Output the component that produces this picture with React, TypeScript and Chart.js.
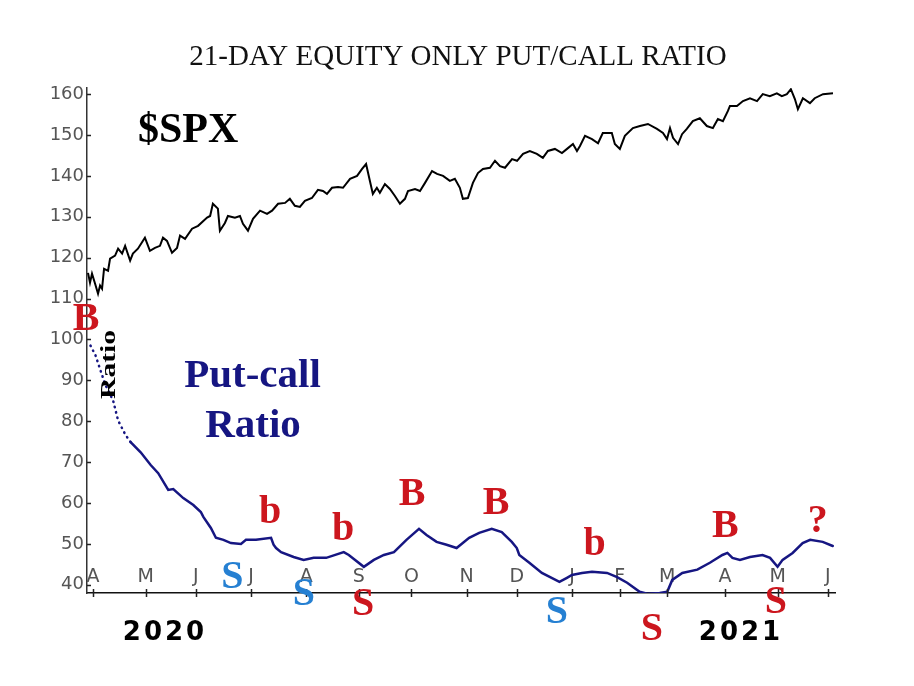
import React, { useEffect, useRef } from "react";
import { Chart, registerables } from "chart.js";

Chart.register(...registerables);

// ---- x axis: trading-day index, month starts ----
const monthDays = [0, 21, 41, 63, 85, 106, 127, 149, 169, 191, 210, 229, 252, 273, 293];
const monthLabels = ["A", "M", "J", "J", "A", "S", "O", "N", "D", "J", "F", "M", "A", "M", "J"];
const yearLabels = ["2020", "2021"];
const yearDays = [28.7, 258.4];

// ---- $SPX (scaled) ----
const spxDays = [
  -2.0, -1.2, -0.4, 0.8, 2.0, 2.8, 3.6, 4.4, 6.0, 6.8,
  8.8, 10.0, 11.6, 12.8, 14.8, 15.9, 17.9, 20.7, 22.7, 24.7,
  26.7, 27.9, 29.5, 31.5, 33.5, 34.7, 36.7, 39.5, 41.9, 45.5,
  46.7, 47.8, 49.8, 50.6, 52.6, 53.8, 56.6, 58.6, 59.8, 61.8,
  63.8, 66.6, 69.4, 71.4, 73.8, 76.6, 78.5, 80.5, 82.5, 84.5,
  87.3, 89.7, 91.7, 93.3, 95.3, 97.7, 99.7, 102.5, 105.3, 107.3,
  108.9, 110.4, 111.6, 113.2, 114.4, 116.4, 118.4, 120.4, 122.4, 124.4,
  125.6, 128.4, 130.4, 132.4, 135.2, 137.2, 139.6, 142.3, 144.3, 146.3,
  147.5, 149.5, 151.5, 153.5, 155.5, 158.3, 160.3, 162.3, 164.3, 167.1,
  169.1, 171.5, 174.2, 177.0, 179.4, 181.4, 184.2, 187.0, 189.4, 191.4,
  193.0, 194.2, 196.2, 199.0, 201.4, 203.3, 206.9, 208.1, 210.1, 212.1,
  215.3, 218.1, 221.3, 224.9, 227.3, 228.9, 230.1, 231.3, 233.3, 234.9,
  236.8, 239.2, 242.0, 244.8, 247.2, 249.2, 251.2, 253.2, 254.0, 256.8,
  259.2, 262.0, 264.8, 267.1, 269.9, 272.7, 274.7, 276.7, 278.3, 279.9,
  281.1, 283.1, 285.9, 287.8, 291.1, 295.1,
];
const spxValues = [
  116.3, 113.9, 116.1, 113.7, 111.2, 113.2, 112.4, 117.3, 116.8, 119.8,
  120.5, 122.2, 121.0, 122.9, 119.3, 121.0, 122.2, 124.9, 121.7, 122.4,
  122.9, 124.9, 124.1, 121.2, 122.4, 125.4, 124.6, 127.1, 127.8, 129.8,
  130.2, 133.2, 132.0, 126.6, 128.5, 130.2, 129.8, 130.2, 128.3, 126.6,
  129.5, 131.5, 130.7, 131.5, 133.2, 133.4, 134.4, 132.7, 132.4, 133.9,
  134.6, 136.6, 136.3, 135.6, 137.1, 137.3, 137.1, 139.3, 140.0, 141.7,
  142.9, 138.8, 135.6, 137.1, 135.9, 138.0, 136.8, 135.1, 133.2, 134.4,
  136.3, 136.8, 136.3, 138.3, 141.2, 140.5, 140.0, 138.8, 139.3, 137.1,
  134.4, 134.6, 138.3, 140.7, 141.7, 142.0, 143.7, 142.4, 142.0, 144.1,
  143.7, 145.4, 146.1, 145.4, 144.4, 146.1, 146.6, 145.6, 146.8, 147.8,
  146.1, 147.3, 149.8, 149.0, 148.0, 150.5, 150.5, 147.8, 146.6, 149.8,
  151.7, 152.2, 152.7, 151.5, 150.5, 149.0, 151.7, 149.3, 147.8, 150.2,
  151.5, 153.4, 154.1, 152.2, 151.7, 153.9, 153.4, 155.9, 157.1, 157.1,
  158.3, 159.0, 158.3, 160.0, 159.5, 160.2, 159.5, 160.0, 161.2, 158.8,
  156.3, 159.0, 157.8, 159.0, 160.0, 160.2,
];

// ---- 21-day equity-only put/call ratio (x100) ----
const pcDays = [
  -1, 1, 3, 5, 8, 10, 13, 15, 19, 23,
  26, 30, 32, 36, 40, 43, 44, 47, 49, 52,
  55, 59, 61, 65, 71, 72, 73, 75, 80, 84,
  88, 93, 100, 102, 108, 112, 116, 120, 125, 130,
  133, 137, 141, 145, 150, 154, 159, 163, 167, 169,
  170, 174, 179, 186, 189, 191, 195, 199, 205, 209,
  213, 218, 221, 226, 229, 231, 235, 241, 246, 251,
  253, 255, 258, 262, 267, 270, 273, 275, 279, 283,
  286, 291, 295,
];
const pcValues = [
  98.5, 96.1, 92.4, 88.8, 85.1, 80.2, 76.6, 74.9, 72.4, 69.3,
  67.3, 63.2, 63.4, 61.2, 59.5, 57.8, 56.6, 53.9, 51.5, 51.0,
  50.2, 50.0, 51.0, 51.0, 51.5, 49.8, 49.0, 48.0, 46.8, 46.1,
  46.6, 46.6, 48.0, 47.3, 44.4, 46.1, 47.3, 48.0, 51.0, 53.7,
  52.2, 50.5, 49.8, 49.0, 51.5, 52.7, 53.7, 52.9, 50.5, 49.0,
  47.3, 45.4, 42.9, 40.7, 41.7, 42.4, 42.9, 43.2, 42.9, 41.9,
  40.5, 38.3, 37.8, 38.0, 38.3, 41.2, 42.9, 43.7, 45.4, 47.3,
  47.8, 46.6, 46.1, 46.8, 47.3, 46.6, 44.4, 46.1, 47.8, 50.2,
  51.0, 50.5, 49.5,
];

// ---- buy / sell signal marks ----
const signalText = ["B", "b", "b", "B", "S", "S", "S", "B", "S", "b", "S", "B", "S", "?"];
const signalDays = [-2.8, 70.6, 99.7, 127.2, 55.6, 84.1, 107.7, 160.7, 185.0, 200.0, 222.9, 252.2, 272.3, 289.0];
const signalValues = [102.2, 55.1, 51.0, 59.5, 39.3, 35.1, 32.7, 57.3, 30.7, 47.3, 26.6, 51.7, 33.2, 52.9];
const signalKind = ["r", "r", "r", "r", "b", "b", "r", "r", "b", "r", "r", "r", "r", "r"];

const RED = "rgb(204,22,30)";
const SKY = "rgb(38,128,210)";
const NAVY = "rgb(22,22,130)";

const decorPlugin = {
  id: "decor",
  beforeDatasetsDraw(chart: any) {
    const { ctx, chartArea, scales } = chart;
    const x = scales.x;
    ctx.save();
    ctx.font = '19px "DejaVu Sans"';
    ctx.fillStyle = "#555";
    ctx.textAlign = "center";
    ctx.textBaseline = "alphabetic";
    monthDays.forEach((d, i) => {
      ctx.fillText(monthLabels[i], x.getPixelForValue(d), chartArea.bottom - 11);
    });
    ctx.restore();
  },
  afterDatasetsDraw(chart: any) {
    const { ctx, chartArea, scales } = chart;
    const x = scales.x;
    const y = scales.y;
    ctx.save();
    // tick marks
    ctx.strokeStyle = "#222";
    ctx.lineWidth = 1.5;
    ctx.beginPath();
    monthDays.forEach((d) => {
      const px = Math.round(x.getPixelForValue(d)) + 0.5;
      ctx.moveTo(px, chartArea.bottom - 4);
      ctx.lineTo(px, chartArea.bottom + 4);
    });
    y.ticks.forEach((t: any) => {
      const py = Math.round(y.getPixelForValue(t.value)) + 0.5;
      ctx.moveTo(chartArea.left, py);
      ctx.lineTo(chartArea.left + 4, py);
    });
    ctx.stroke();

    ctx.textBaseline = "alphabetic";
    ctx.textAlign = "center";

    // title
    ctx.fillStyle = "#111";
    ctx.font = '29px "Liberation Serif"';
    ctx.fillText("21-DAY EQUITY ONLY PUT/CALL RATIO", 458, 65);

    // $SPX
    ctx.font = 'bold 42px "Liberation Serif"';
    ctx.textAlign = "left";
    ctx.fillStyle = "#000";
    ctx.fillText("$SPX", x.getPixelForValue(17.9), y.getPixelForValue(148.3));

    // Put-call Ratio label
    ctx.textAlign = "center";
    ctx.fillStyle = NAVY;
    ctx.font = 'bold 41px "Liberation Serif"';
    ctx.fillText("Put-call", x.getPixelForValue(63.6), y.getPixelForValue(88.3));
    ctx.fillText("Ratio", x.getPixelForValue(63.8), y.getPixelForValue(76.1));

    // rotated "Ratio"
    ctx.save();
    ctx.translate(x.getPixelForValue(6.4), y.getPixelForValue(93.9));
    ctx.rotate(-Math.PI / 2);
    ctx.fillStyle = "#000";
    ctx.font = 'bold 22px "Liberation Serif"';
    ctx.textBaseline = "middle";
    ctx.scale(1.35, 1);
    ctx.fillText("Ratio", 0, 0);
    ctx.restore();

    // signals
    ctx.font = 'bold 40px "Liberation Serif"';
    signalText.forEach((s, i) => {
      ctx.fillStyle = signalKind[i] === "b" ? SKY : RED;
      ctx.fillText(s, x.getPixelForValue(signalDays[i]), y.getPixelForValue(signalValues[i]));
    });

    // years
    ctx.fillStyle = "#000";
    ctx.font = 'bold 26px "DejaVu Sans"';
    (ctx as any).letterSpacing = "3px";
    yearLabels.forEach((s, i) => {
      ctx.fillText(s, x.getPixelForValue(yearDays[i]), y.getPixelForValue(26.6));
    });
    ctx.restore();
  },
};

export default function App() {
  const canvasRef = useRef<HTMLCanvasElement | null>(null);

  useEffect(() => {
    if (!canvasRef.current) return;
    const spxData = spxDays.map((d, i) => ({ x: d, y: spxValues[i] }));
    const pcData = pcDays.map((d, i) => ({ x: d, y: pcValues[i] }));
    const chart = new Chart(canvasRef.current, {
      type: "line",
      data: {
        datasets: [
          {
            label: "$SPX",
            data: spxData,
            borderColor: "#000",
            borderWidth: 2,
            pointRadius: 0,
            tension: 0,
          },
          {
            label: "Put-call Ratio",
            data: pcData,
            borderColor: NAVY,
            borderWidth: 2.5,
            pointRadius: 0,
            tension: 0,
            borderCapStyle: "round",
            segment: {
              borderDash: (c: any) => (c.p0.parsed.x < 15 ? [0.5, 5] : undefined),
            },
          },
        ],
      },
      options: {
        animation: false,
        responsive: true,
        maintainAspectRatio: false,
        layout: { padding: { top: 88, bottom: 93, left: 0, right: 79 } },
        plugins: {
          legend: { display: false },
          tooltip: { enabled: false },
          title: { display: false },
        },
        scales: {
          x: {
            type: "linear",
            min: -2.4,
            max: 295.9,
            grid: { display: false, drawTicks: false },
            ticks: { display: false },
            border: { display: true, color: "#111", width: 1.5 },
            afterFit: (s: any) => {
              s.height = 0;
            },
          },
          y: {
            type: "linear",
            min: 38,
            max: 161.5,
            grid: { display: false, drawTicks: false },
            border: { display: true, color: "#333", width: 1.5 },
            ticks: {
              stepSize: 10,
              includeBounds: false,
              color: "#555",
              padding: 3,
              font: { family: "DejaVu Sans", size: 18 },
            },
            afterFit: (s: any) => {
              s.width = 87;
            },
          },
        },
      },
      plugins: [decorPlugin],
    } as any);
    return () => chart.destroy();
  }, []);

  return (
    <div style={{ position: "absolute", left: 0, top: 0, width: 914, height: 686, background: "#fff" }}>
      <canvas ref={canvasRef} />
    </div>
  );
}
